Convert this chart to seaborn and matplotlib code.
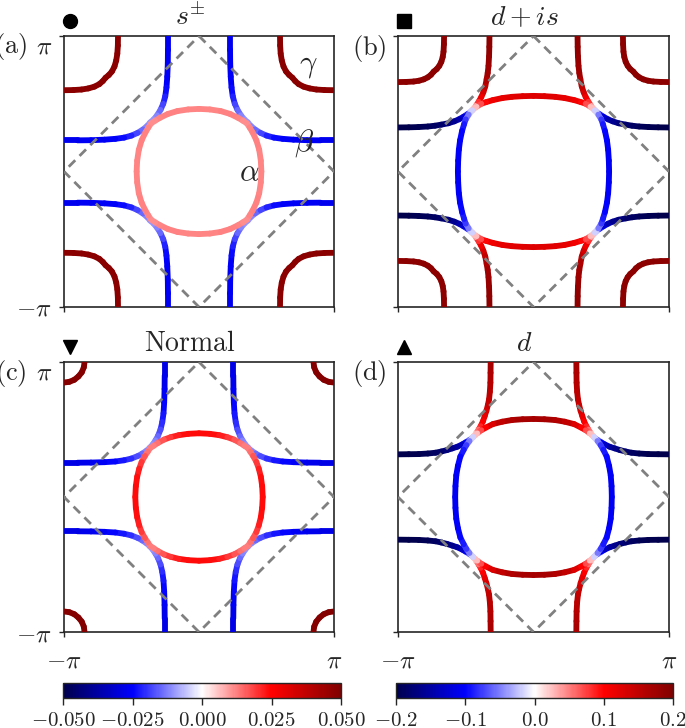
import numpy as np
import matplotlib
matplotlib.use('Agg')
import matplotlib.pyplot as plt
import seaborn as sns
from matplotlib.collections import LineCollection
from matplotlib.colors import Normalize
from matplotlib.cm import ScalarMappable

# Fermi surface points, units of pi, first quadrant only,
# from the top end of each sheet down to the diagonal kx = ky
# (a) s+-
a_alpha_kx = [0.0, 0.08, 0.16, 0.23, 0.29, 0.325, 0.355]
a_alpha_ky = [0.462, 0.458, 0.446, 0.425, 0.396, 0.375, 0.355]
a_alpha_gap = [0.012, 0.012, 0.012, 0.0125, 0.012, 0.0115, 0.011]
a_beta_kx = [0.230, 0.230, 0.231, 0.235, 0.241, 0.250, 0.265, 0.285, 0.310, 0.335, 0.362]
a_beta_ky = [1.0, 0.90, 0.80, 0.70, 0.62, 0.555, 0.50, 0.455, 0.415, 0.385, 0.362]
a_beta_gap = [-0.027, -0.027, -0.026, -0.026, -0.025, -0.023, -0.020, -0.016, -0.013, -0.011, -0.010]
a_gamma_kx = [0.600, 0.601, 0.605, 0.613, 0.626, 0.645, 0.668, 0.692]
a_gamma_ky = [1.0, 0.93, 0.87, 0.82, 0.775, 0.738, 0.712, 0.692]
a_gamma_gap = [0.048, 0.048, 0.048, 0.048, 0.048, 0.048, 0.048, 0.048]

# (b) d+is
b_alpha_kx = [0.0, 0.08, 0.16, 0.23, 0.30, 0.35, 0.385, 0.42, 0.452]
b_alpha_ky = [0.558, 0.556, 0.551, 0.542, 0.527, 0.512, 0.500, 0.478, 0.452]
b_alpha_gap_top = [0.125, 0.125, 0.123, 0.12, 0.115, 0.105, 0.09, 0.05, 0.0]
b_alpha_gap_side = [-0.105, -0.105, -0.103, -0.1, -0.095, -0.085, -0.07, -0.035, 0.0]
b_beta_kx = [0.325, 0.326, 0.328, 0.332, 0.338, 0.346, 0.356, 0.370, 0.385, 0.405, 0.425, 0.452]
b_beta_ky = [1.0, 0.92, 0.85, 0.78, 0.727, 0.68, 0.628, 0.585, 0.55, 0.515, 0.485, 0.452]
b_beta_gap_top = [0.19, 0.188, 0.185, 0.18, 0.175, 0.17, 0.155, 0.14, 0.12, 0.10, 0.06, 0.0]
b_beta_gap_side = [-0.2, -0.198, -0.195, -0.19, -0.185, -0.178, -0.168, -0.155, -0.135, -0.11, -0.07, 0.0]
b_gamma_kx = [0.660, 0.661, 0.664, 0.670, 0.680, 0.695, 0.714, 0.737]
b_gamma_ky = [1.0, 0.94, 0.885, 0.845, 0.81, 0.78, 0.756, 0.737]
b_gamma_gap = [0.19, 0.19, 0.19, 0.19, 0.19, 0.19, 0.19, 0.19]

# (c) normal
c_alpha_kx = [0.0, 0.08, 0.15, 0.21, 0.26, 0.305, 0.335, 0.362]
c_alpha_ky = [0.472, 0.468, 0.458, 0.443, 0.425, 0.400, 0.380, 0.362]
c_alpha_gap = [0.024, 0.024, 0.023, 0.021, 0.018, 0.015, 0.013, 0.012]
c_beta_kx = [0.254, 0.254, 0.255, 0.258, 0.263, 0.272, 0.285, 0.304, 0.322, 0.342, 0.365]
c_beta_ky = [1.0, 0.90, 0.80, 0.70, 0.62, 0.555, 0.50, 0.452, 0.420, 0.390, 0.365]
c_beta_gap = [-0.029, -0.028, -0.027, -0.025, -0.024, -0.022, -0.019, -0.016, -0.013, -0.011, -0.010]
c_gamma_kx = [0.848, 0.853, 0.868, 0.893]
c_gamma_ky = [1.0, 0.961, 0.924, 0.893]
c_gamma_gap = [0.049, 0.049, 0.049, 0.049]

# (d) d
d_alpha_kx = [0.0, 0.08, 0.16, 0.23, 0.30, 0.35, 0.385, 0.415, 0.445]
d_alpha_ky = [0.578, 0.576, 0.570, 0.558, 0.540, 0.515, 0.495, 0.472, 0.445]
d_alpha_gap_top = [0.17, 0.17, 0.165, 0.155, 0.138, 0.115, 0.09, 0.05, 0.0]
d_alpha_gap_side = [-0.105, -0.105, -0.104, -0.1, -0.095, -0.085, -0.07, -0.035, 0.0]
d_beta_kx = [0.316, 0.317, 0.318, 0.322, 0.328, 0.337, 0.348, 0.360, 0.372, 0.390, 0.405, 0.425, 0.445]
d_beta_ky = [1.0, 0.92, 0.847, 0.78, 0.723, 0.68, 0.637, 0.60, 0.563, 0.525, 0.50, 0.47, 0.445]
d_beta_gap_top = [0.17, 0.165, 0.16, 0.155, 0.15, 0.145, 0.135, 0.125, 0.11, 0.095, 0.075, 0.04, 0.0]
d_beta_gap_side = [-0.2, -0.198, -0.196, -0.192, -0.186, -0.178, -0.17, -0.16, -0.145, -0.12, -0.09, -0.05, 0.0]

# magnetic zone boundary
mbz_kx = [0, 1, 0, -1, 0]
mbz_ky = [1, 0, -1, 0, 1]

titles = [r'$s^{\pm}$', r'$d+is$', r'$\mathrm{Normal}$', r'$d$']
panel_labels = [r'$\mathrm{(a)}$', r'$\mathrm{(b)}$', r'$\mathrm{(c)}$', r'$\mathrm{(d)}$']
markers = ['o', 's', 'v', '^']
cbar_s_ticks = [-0.05, -0.025, 0.0, 0.025, 0.05]
cbar_s_labels = [r'$-0.050$', r'$-0.025$', r'$0.000$', r'$0.025$', r'$0.050$']
cbar_d_ticks = [-0.2, -0.1, 0.0, 0.1, 0.2]
cbar_d_labels = [r'$-0.2$', r'$-0.1$', r'$0.0$', r'$0.1$', r'$0.2$']

sns.set_theme(style='ticks')
plt.rcParams['mathtext.fontset'] = 'cm'
plt.rcParams['font.family'] = ['DejaVu Serif']
plt.rcParams['axes.edgecolor'] = '.15'

W, H = 685, 728
fig = plt.figure(figsize=(W / 100, H / 100), dpi=100)


def px_axes(l, t, r, b):
    return fig.add_axes([l / W, (H - b) / H, (r - l) / W, (b - t) / H])


def draw_sheet(ax, kx, ky, gap_top, gap_side, norm):
    kx = np.asarray(kx)
    ky = np.asarray(ky)
    # mirror across the diagonal to finish the quadrant
    x = np.concatenate([kx, ky[::-1][1:]])
    y = np.concatenate([ky, kx[::-1][1:]])
    g = np.concatenate([gap_top, np.asarray(gap_side)[::-1][1:]])
    for sx, sy in [(1, 1), (-1, 1), (-1, -1), (1, -1)]:
        pts = np.column_stack([sx * x, sy * y]) * np.pi
        segs = np.stack([pts[:-1], pts[1:]], axis=1)
        lc = LineCollection(segs, cmap='seismic', norm=norm, linewidths=4.2,
                            capstyle='round', joinstyle='round', zorder=3)
        lc.set_array(0.5 * (g[:-1] + g[1:]))
        ax.add_collection(lc)


norm_s = Normalize(-0.05, 0.05)
norm_d = Normalize(-0.2, 0.2)

ax_a = px_axes(64, 36, 334, 307)
ax_b = px_axes(398, 36, 669, 307)
ax_c = px_axes(64, 362, 334, 632)
ax_d = px_axes(398, 362, 669, 632)
axes = [ax_a, ax_b, ax_c, ax_d]

draw_sheet(ax_a, a_gamma_kx, a_gamma_ky, a_gamma_gap, a_gamma_gap, norm_s)
draw_sheet(ax_a, a_beta_kx, a_beta_ky, a_beta_gap, a_beta_gap, norm_s)
draw_sheet(ax_a, a_alpha_kx, a_alpha_ky, a_alpha_gap, a_alpha_gap, norm_s)

draw_sheet(ax_b, b_gamma_kx, b_gamma_ky, b_gamma_gap, b_gamma_gap, norm_d)
draw_sheet(ax_b, b_beta_kx, b_beta_ky, b_beta_gap_top, b_beta_gap_side, norm_d)
draw_sheet(ax_b, b_alpha_kx, b_alpha_ky, b_alpha_gap_top, b_alpha_gap_side, norm_d)

draw_sheet(ax_c, c_gamma_kx, c_gamma_ky, c_gamma_gap, c_gamma_gap, norm_s)
draw_sheet(ax_c, c_beta_kx, c_beta_ky, c_beta_gap, c_beta_gap, norm_s)
draw_sheet(ax_c, c_alpha_kx, c_alpha_ky, c_alpha_gap, c_alpha_gap, norm_s)

draw_sheet(ax_d, d_beta_kx, d_beta_ky, d_beta_gap_top, d_beta_gap_side, norm_d)
draw_sheet(ax_d, d_alpha_kx, d_alpha_ky, d_alpha_gap_top, d_alpha_gap_side, norm_d)

for i, ax in enumerate(axes):
    sns.lineplot(x=np.array(mbz_kx) * np.pi, y=np.array(mbz_ky) * np.pi, sort=False,
                 estimator=None, color='#808080', lw=2.0, dashes=False, ax=ax, zorder=5)
    ax.lines[-1].set_dashes((3.3, 2.2))
    ax.set_xlim(-np.pi, np.pi)
    ax.set_ylim(-np.pi, np.pi)
    ax.set_xticks([-np.pi, np.pi])
    ax.set_yticks([-np.pi, np.pi])
    ax.set_xticklabels([r'$-\pi$', r'$\pi$'])
    ax.set_yticklabels([r'$-\pi$', r'$\pi$'])
    ax.tick_params(axis='both', direction='out', length=3.6, width=1.0, labelsize=18)
    ax.tick_params(axis='x', pad=9)
    ax.tick_params(axis='y', pad=5)
    ax.tick_params(labelbottom=(i >= 2), labelleft=(i % 2 == 0))
    ax.yaxis.get_major_ticks()[1].label1.set_va('top')
    for sp in ax.spines.values():
        sp.set_linewidth(1.2)
    ax.text(0.467, 1.041, titles[i], transform=ax.transAxes, ha='center',
            va='baseline', fontsize=20)
    ax.plot([0.022], [1.055], marker=markers[i], color='black', markersize=10 if i == 0 else 9.5,
            transform=ax.transAxes, clip_on=False, ls='none')

fig.text(27 / W, 1 - 46 / H, panel_labels[0], ha='right', va='center', fontsize=19)
fig.text(387 / W, 1 - 49 / H, panel_labels[1], ha='right', va='center', fontsize=19)
fig.text(27 / W, 1 - 374 / H, panel_labels[2], ha='right', va='center', fontsize=19)
fig.text(387 / W, 1 - 374 / H, panel_labels[3], ha='right', va='center', fontsize=19)

ax_a.text(0.37 * np.pi, -0.01 * np.pi, r'$\alpha$', fontsize=22, ha='center', va='center', zorder=6)
ax_a.text(0.78 * np.pi, 0.21 * np.pi, r'$\beta$', fontsize=22, ha='center', va='center', zorder=6)
ax_a.text(0.81 * np.pi, 0.79 * np.pi, r'$\gamma$', fontsize=22, ha='center', va='center', zorder=6)

cax_s = px_axes(63, 683, 341, 698)
cax_d = px_axes(396, 683, 673, 698)
for cax, norm, ticks, labels in [(cax_s, norm_s, cbar_s_ticks, cbar_s_labels),
                                 (cax_d, norm_d, cbar_d_ticks, cbar_d_labels)]:
    cb = fig.colorbar(ScalarMappable(norm=norm, cmap='seismic'), cax=cax, orientation='horizontal')
    cb.set_ticks(ticks, labels=labels)
    cax.tick_params(labelsize=15, length=5, width=1.0, pad=4)
    cb.outline.set_linewidth(1.0)

fig.savefig('out.png', dpi=100)
